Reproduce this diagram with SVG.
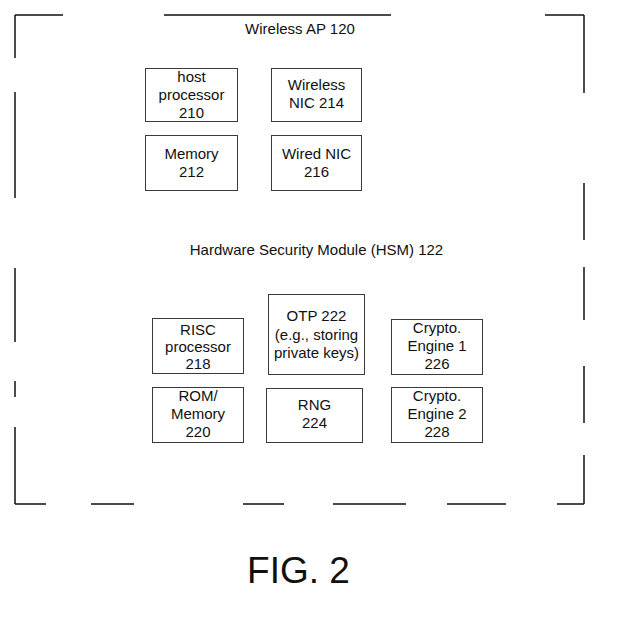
<svg xmlns="http://www.w3.org/2000/svg" width="617" height="622" viewBox="0 0 617 622">
  <style>
    .box { fill: #ffffff; stroke: #3a3a3a; stroke-width: 1; }
    .lbl { font-family: "Liberation Sans", Arial, sans-serif; font-size: 15px; fill: #111; text-anchor: middle; }
    .edge { stroke: #111; stroke-width: 1.5; fill: none; }
    .fig { font-family: "Liberation Sans", Arial, sans-serif; font-size: 37px; fill: #111; text-anchor: middle; }
  </style>
  <rect width="617" height="622" fill="#ffffff"/>

  <!-- dashed enclosure of the access point -->
  <g id="enclosure">
    <!-- top -->
    <path class="edge" d="M15 15 H63 M164 15 H391 M545 15 H584"/>
    <!-- right -->
    <path class="edge" d="M584 15 V93 M584 183 V240 M584 267 V320 M584 366 V423 M584 455 V504"/>
    <!-- bottom -->
    <path class="edge" d="M15 504 H46 M91 504 H134 M243 504 H284 M333 504 H406 M447 504 H506 M557 504 H584"/>
    <!-- left -->
    <path class="edge" d="M15 15 V58 M15 92 V198 M15 268 V342 M15 381 V397 M15 427 V504"/>
  </g>

  <text class="lbl" x="300" y="34">Wireless AP 120</text>
  <text class="lbl" x="316.5" y="255">Hardware Security Module (HSM) 122</text>

  <!-- access point components -->
  <g id="host-processor-210">
    <rect class="box" x="145.5" y="68.5" width="92" height="53"/>
    <text class="lbl" x="191.5" y="82">host</text>
    <text class="lbl" x="191.5" y="100">processor</text>
    <text class="lbl" x="191.5" y="118">210</text>
  </g>
  <g id="wireless-nic-214">
    <rect class="box" x="271.5" y="68.5" width="90" height="53"/>
    <text class="lbl" x="316.5" y="90">Wireless</text>
    <text class="lbl" x="316.5" y="108">NIC 214</text>
  </g>
  <g id="memory-212">
    <rect class="box" x="145.5" y="135.5" width="92" height="55"/>
    <text class="lbl" x="191.5" y="159">Memory</text>
    <text class="lbl" x="191.5" y="177">212</text>
  </g>
  <g id="wired-nic-216">
    <rect class="box" x="271.5" y="135.5" width="90" height="55"/>
    <text class="lbl" x="316.5" y="159">Wired NIC</text>
    <text class="lbl" x="316.5" y="177">216</text>
  </g>

  <!-- HSM components -->
  <g id="risc-processor-218">
    <rect class="box" x="152.5" y="318.5" width="91" height="55"/>
    <text class="lbl" x="198" y="335">RISC</text>
    <text class="lbl" x="198" y="352">processor</text>
    <text class="lbl" x="198" y="369">218</text>
  </g>
  <g id="otp-222">
    <rect class="box" x="268.5" y="294.5" width="96" height="80"/>
    <text class="lbl" x="316.5" y="321">OTP 222</text>
    <text class="lbl" x="316.5" y="340">(e.g., storing</text>
    <text class="lbl" x="316.5" y="358">private keys)</text>
  </g>
  <g id="crypto-engine-226">
    <rect class="box" x="391.5" y="319.5" width="91" height="55"/>
    <text class="lbl" x="437" y="333">Crypto.</text>
    <text class="lbl" x="437" y="351">Engine 1</text>
    <text class="lbl" x="437" y="369">226</text>
  </g>
  <g id="rom-memory-220">
    <rect class="box" x="152.5" y="387.5" width="91" height="55"/>
    <text class="lbl" x="198" y="401">ROM/</text>
    <text class="lbl" x="198" y="419">Memory</text>
    <text class="lbl" x="198" y="437">220</text>
  </g>
  <g id="rng-224">
    <rect class="box" x="266.5" y="388.5" width="96" height="54"/>
    <text class="lbl" x="314.5" y="410">RNG</text>
    <text class="lbl" x="314.5" y="428">224</text>
  </g>
  <g id="crypto-engine-228">
    <rect class="box" x="391.5" y="387.5" width="91" height="55"/>
    <text class="lbl" x="437" y="401">Crypto.</text>
    <text class="lbl" x="437" y="419">Engine 2</text>
    <text class="lbl" x="437" y="437">228</text>
  </g>

  <g id="connectors"></g>

  <text class="fig" x="298.5" y="583">FIG. 2</text>
</svg>
